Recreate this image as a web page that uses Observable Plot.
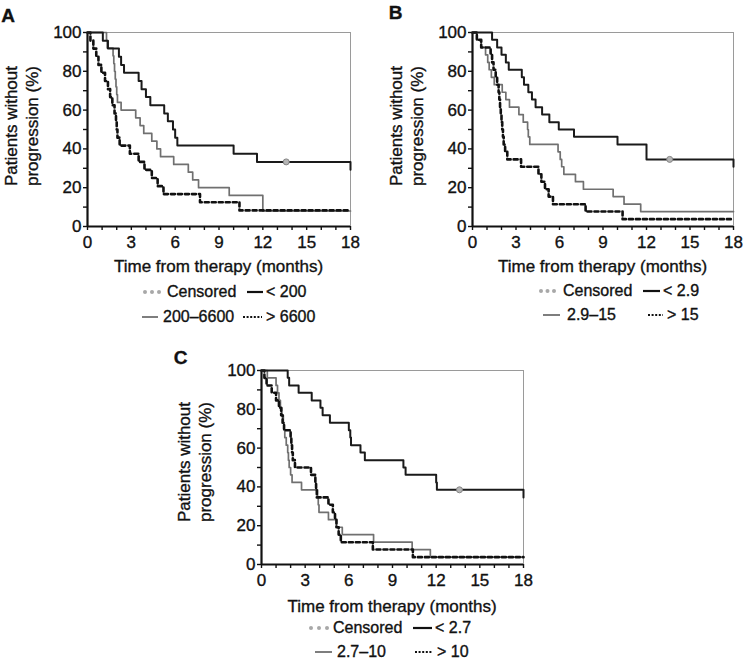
<!DOCTYPE html>
<html><head><meta charset="utf-8">
<script src="https://cdn.jsdelivr.net/npm/d3@7"></script>
<script src="https://cdn.jsdelivr.net/npm/@observablehq/plot@0.6"></script>
<style>
body{margin:0;background:#fff;}
#fig{position:relative;width:743px;height:663px;overflow:hidden;font-family:"Liberation Sans",Arial,Helvetica,sans-serif;color:#111;}
.abs{position:absolute;white-space:nowrap;-webkit-text-stroke:0.35px #111;}
.plot{position:absolute;}
.plot text{stroke:#111;stroke-width:0.35px;}
</style></head><body><div id="fig"></div>
<script>
// ---------- axis ticks ----------
const xTickValues = [0,1,2,3,4,5,6,7,8,9,10,11,12,13,14,15,16,17,18];
const xTickLabels = [0,3,6,9,12,15,18];
const yTickValues = [0,10,20,30,40,50,60,70,80,90,100];
const yTickLabels = [0,20,40,60,80,100];
const xTitle = "Time from therapy (months)";
const yTitle = ["Patients without", "progression (%)"];
const censoredLabel = "Censored";

// ---------- Panel A ----------
const aGroups = ["< 200", "200\u20136600", "> 6600"];
const aLow = [[0,100],[1.05,95.8],[1.4,91.7],[2.15,87.5],[2.3,83.3],[2.5,79.2],[3.5,75],[3.7,70.8],[4.0,66.7],[4.3,62.5],[5.25,58.3],[5.5,54.2],[5.85,50],[6.0,45.8],[6.15,41.7],[10.0,37.5],[11.6,33.3],[18,29.2]];
const aMid = [[0,100],[1.3,96],[1.35,92],[1.75,88],[1.8,84],[1.85,80],[1.9,76],[1.95,72],[2.0,68],[2.05,64],[2.3,60],[3.3,56],[3.6,52],[3.85,48],[4.4,44],[4.75,40],[5.0,36],[5.9,32],[6.9,28],[7.2,24],[7.6,20],[9.7,16],[12,8],[18,8]];
const aHigh = [[0,100],[0.2,95.8],[0.4,91.7],[0.6,87.5],[0.75,83.3],[0.95,79.2],[1.2,75],[1.4,70.8],[1.55,66.7],[1.7,62.5],[1.85,58.3],[1.95,54.2],[2.0,50],[2.05,45.8],[2.2,41.7],[2.9,37.5],[3.5,33.3],[3.9,29.2],[4.4,25],[4.8,20.8],[5.2,16.7],[7.7,12.5],[10.4,8.3],[18,8.3]];
const aCensored = [[13.6,33.3]];

// ---------- Panel B ----------
const bGroups = ["< 2.9", "2.9\u201315", "> 15"];
const bLow = [[0,100],[1.35,96.2],[1.7,92.3],[2.0,88.5],[2.3,84.6],[2.5,80.8],[3.4,76.9],[3.55,73.1],[3.85,69.2],[4.1,65.4],[4.35,61.5],[4.8,57.7],[5.3,53.8],[5.95,50],[7.0,46.2],[10.0,42.3],[12.0,34.6],[18,30.8]];
const bMid = [[0,100],[0.3,96.2],[0.6,92.3],[0.9,88.5],[1.05,84.6],[1.15,80.8],[1.3,76.9],[1.5,73.1],[2.05,69.2],[2.3,65.4],[2.55,61.5],[3.2,57.7],[3.5,53.8],[3.8,50],[3.85,46.2],[3.95,42.3],[5.9,38.5],[6.05,34.6],[6.15,30.8],[6.3,26.9],[7.1,23.1],[7.65,19.2],[9.7,15.4],[10.45,11.5],[11.6,7.7],[18,7.7]];
const bHigh = [[0,100],[0.3,96.2],[0.6,92.3],[1.25,88.5],[1.35,84.6],[1.45,80.8],[1.6,76.9],[1.7,73.1],[1.8,69.2],[1.85,65.4],[1.9,61.5],[1.95,57.7],[2.0,53.8],[2.05,50],[2.1,46.2],[2.15,42.3],[2.25,38.5],[2.4,34.6],[3.35,30.8],[4.55,26.9],[4.75,23.1],[5.0,19.2],[5.25,15.4],[5.55,11.5],[7.8,7.7],[10.35,3.8],[18,3.8]];
const bCensored = [[13.6,34.6]];

// ---------- Panel C ----------
const cGroups = ["< 2.7", "2.7\u201310", "> 10"];
const cLow = [[0,100],[1.8,96.2],[1.9,92.3],[2.55,88.5],[3.45,84.6],[4.05,80.8],[4.2,76.9],[4.7,73.1],[6.0,69.2],[6.1,65.4],[6.15,61.5],[6.8,57.7],[7.1,53.8],[9.75,50],[9.9,46.2],[12.0,42.3],[12.05,38.5],[18,34.6]];
const cMid = [[0,100],[0.4,96.2],[1.0,92.3],[1.1,88.5],[1.2,84.6],[1.3,80.8],[1.4,76.9],[1.5,73.1],[1.55,69.2],[1.6,65.4],[1.7,61.5],[1.8,57.7],[1.85,53.8],[1.9,50],[2.0,46.2],[2.1,42.3],[2.75,38.5],[3.85,34.6],[3.9,30.8],[3.95,26.9],[4.6,23.1],[5.15,19.2],[5.55,15.4],[7.7,11.5],[10.35,7.7],[11.6,3.8],[18,3.8]];
const cHigh = [[0,100],[0.2,96.2],[0.35,92.3],[0.7,88.5],[1.0,84.6],[1.2,80.8],[1.35,76.9],[1.45,73.1],[1.55,69.2],[2.0,65.4],[2.05,61.5],[2.1,57.7],[2.15,53.8],[2.3,50],[3.4,46.2],[3.7,42.3],[3.75,38.5],[3.8,34.6],[4.6,30.8],[4.9,26.9],[5.05,23.1],[5.15,19.2],[5.3,15.4],[5.45,11.5],[7.65,7.7],[10.4,3.8],[18,3.8]];
const cCensored = [[13.6,38.5]];

const panelLetters = ["A","B","C"];

// ---------- helpers ----------
const fig = document.getElementById("fig");
const toRows = arr => arr.map(([t, v]) => ({t, v}));

function kmPlot({low, mid, high, censored, left, top, width, height, mL, mR, mT, mB}) {
  const p = Plot.plot({
    width, height,
    marginLeft: mL, marginRight: mR, marginTop: mT, marginBottom: mB,
    x: {domain: [0, 18]},
    y: {domain: [0, 100]},
    style: {fontFamily: '"Liberation Sans", Arial, sans-serif', fontSize: "17px", color: "#111", background: "transparent", overflow: "visible"},
    marks: [
      Plot.frame({stroke: "#9a9a9a", strokeWidth: 1}),
      Plot.axisX({ticks: xTickValues, tickFormat: d => xTickLabels.includes(d) ? String(d) : "", tickSize: 4, tickPadding: 5, label: null, strokeWidth: 1.4}),
      Plot.axisY({ticks: yTickValues, tickFormat: d => yTickLabels.includes(d) ? String(d) : "", tickSize: 4, tickPadding: 2, label: null, strokeWidth: 1.4}),
      Plot.ruleY([0], {stroke: "#111", strokeWidth: 2.2}),
      Plot.ruleX([0], {stroke: "#111", strokeWidth: 2.2}),
      Plot.line(toRows(mid), {x: "t", y: "v", curve: "step-after", stroke: "#707070", strokeWidth: 1.7}),
      Plot.line(toRows(high), {x: "t", y: "v", curve: "step-after", stroke: "#111", strokeWidth: 2.6, strokeDasharray: "4,3"}),
      Plot.line(toRows(low), {x: "t", y: "v", curve: "step-after", stroke: "#1a1a1a", strokeWidth: 2}),
      Plot.dot(toRows(censored), {x: "t", y: "v", r: 3, fill: "#b5b5b5", stroke: "#858585", strokeWidth: 1})
    ]
  });
  p.classList.add("plot");
  p.style.left = left + "px";
  p.style.top = top + "px";
  fig.appendChild(p);
}

function txt(str, x, y, {anchor = "start", size = 16, weight = "normal"} = {}) {
  const d = document.createElement("div");
  d.className = "abs";
  d.textContent = str;
  d.style.left = x + "px";
  d.style.top = y + "px";
  d.style.fontSize = size + "px";
  d.style.lineHeight = size + "px";
  d.style.fontWeight = weight;
  const tx = anchor === "middle" ? "-50%" : anchor === "end" ? "-100%" : "0";
  d.style.transform = `translate(${tx},-50%)`;
  fig.appendChild(d);
}

function yLabel(cx, cy) {
  const d = document.createElement("div");
  d.className = "abs";
  d.style.left = cx + "px";
  d.style.top = cy + "px";
  d.style.fontSize = "17px";
  d.style.lineHeight = "21px";
  d.style.textAlign = "center";
  d.style.transform = "translate(-50%,-50%) rotate(-90deg)";
  d.innerHTML = yTitle.join("<br>");
  fig.appendChild(d);
}

function swatch(kind, x1, x2, y) {
  const w = x2 - x1;
  const ns = "http://www.w3.org/2000/svg";
  const s = document.createElementNS(ns, "svg");
  s.setAttribute("width", w);
  s.setAttribute("height", 8);
  s.style.position = "absolute";
  s.style.left = x1 + "px";
  s.style.top = (y - 4) + "px";
  if (kind === "dots") {
    for (let i = 0; i < 3; i++) {
      const c = document.createElementNS(ns, "circle");
      c.setAttribute("cx", 3 + i * (w - 6) / 2);
      c.setAttribute("cy", 4);
      c.setAttribute("r", 2);
      c.setAttribute("fill", "#a8a8a8");
      s.appendChild(c);
    }
  } else {
    const l = document.createElementNS(ns, "line");
    l.setAttribute("x1", 0); l.setAttribute("x2", w);
    l.setAttribute("y1", 4); l.setAttribute("y2", 4);
    if (kind === "black") { l.setAttribute("stroke", "#111"); l.setAttribute("stroke-width", 2.2); }
    if (kind === "gray") { l.setAttribute("stroke", "#707070"); l.setAttribute("stroke-width", 1.8); }
    if (kind === "dotted") { l.setAttribute("stroke", "#111"); l.setAttribute("stroke-width", 2.2); l.setAttribute("stroke-dasharray", "2,1.6"); }
    s.appendChild(l);
  }
  fig.appendChild(s);
}

function legend(groups, L) {
  swatch("dots", L.d1[0], L.d1[1], L.r1);
  txt(censoredLabel, L.t1, L.r1);
  swatch("black", L.b1[0], L.b1[1], L.r1);
  txt(groups[0], L.t2, L.r1);
  swatch("gray", L.g1[0], L.g1[1], L.r2);
  txt(groups[1], L.t3, L.r2);
  swatch("dotted", L.k1[0], L.k1[1], L.r2);
  txt(groups[2], L.t4, L.r2);
}

// ---------- Panel A ----------
kmPlot({low: aLow, mid: aMid, high: aHigh, censored: aCensored, left: 0, top: 0, width: 370, height: 255, mL: 87, mR: 20, mT: 32, mB: 29});
txt(panelLetters[0], 8, 15, {anchor: "middle", size: 19, weight: "bold"});
yLabel(22, 126);
txt(xTitle, 218.5, 266, {anchor: "middle", size: 17});
legend(aGroups, {r1: 292, r2: 317, d1: [142, 162], t1: 167, b1: [247, 263], t2: 266, g1: [142, 158], t3: 163, k1: [243, 262], t4: 266});

// ---------- Panel B ----------
kmPlot({low: bLow, mid: bMid, high: bHigh, censored: bCensored, left: 370, top: 0, width: 373, height: 255, mL: 102, mR: 10, mT: 32, mB: 29});
txt(panelLetters[1], 395.5, 12, {anchor: "middle", size: 19, weight: "bold"});
yLabel(407, 126);
txt(xTitle, 602.5, 266, {anchor: "middle", size: 17});
legend(bGroups, {r1: 291, r2: 315, d1: [538, 557], t1: 563, b1: [643, 660], t2: 663, g1: [543, 560], t3: 567, k1: [648, 663], t4: 667});

// ---------- Panel C ----------
kmPlot({low: cLow, mid: cMid, high: cHigh, censored: cCensored, left: 160, top: 320, width: 400, height: 275, mL: 101, mR: 37, mT: 50, mB: 31});
txt(panelLetters[2], 180.5, 357, {anchor: "middle", size: 19, weight: "bold"});
yLabel(195, 462);
txt(xTitle, 392, 606, {anchor: "middle", size: 17});
legend(cGroups, {r1: 628, r2: 652, d1: [308, 330], t1: 333, b1: [413, 432], t2: 435, g1: [315, 332], t3: 337, k1: [415, 432], t4: 437});
</script></body></html>
